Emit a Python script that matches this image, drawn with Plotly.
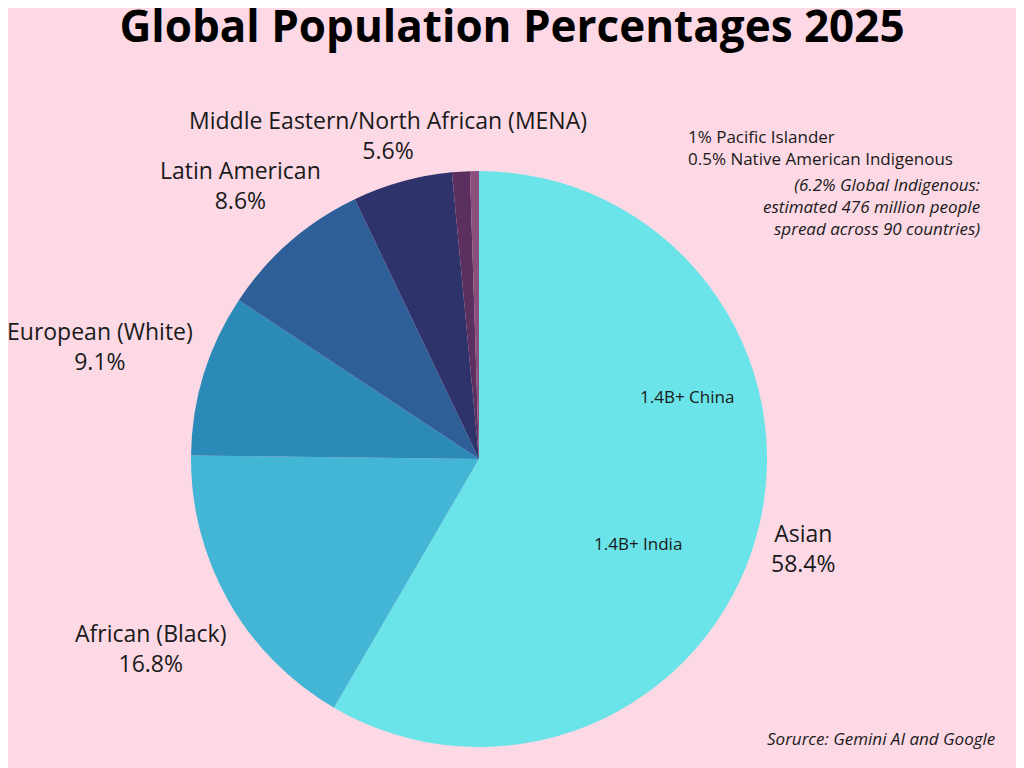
import plotly.graph_objects as go

groups = ["Asian", "African (Black)", "European (White)", "Latin American",
          "Middle Eastern/North African (MENA)", "Pacific Islander", "Native American Indigenous"]
shares = [58.4, 16.8, 9.1, 8.6, 5.6, 1.0, 0.5]
colors = ["#6ae4e8", "#42b6d4", "#2b8ab8", "#2e5f98", "#2f336b", "#5b2f5e", "#8a4f7c"]

W, H = 1024, 768
BG = "#fdd9e5"
OFF = 8  # page offset seen in the screenshot


def px(x, y):
    return (x - OFF) / W, 1 - (y - OFF) / H


x0, y1 = px(191, 171)
x1, y0 = px(767, 747)
fig = go.Figure(go.Pie(
    labels=groups, values=shares, sort=False, direction="clockwise", rotation=0,
    marker=dict(colors=colors, line=dict(width=0)),
    textinfo="none", hoverinfo="label+percent", showlegend=False,
    domain=dict(x=[x0, x1], y=[y0, y1]),
))

# (text, x px, y px, size, style, anchor)
labels = [
    ("Middle Eastern/North African (MENA)<br>5.6%", 388, 135, 23, "normal", "center"),
    ("Latin American<br>8.6%", 240, 185, 23, "normal", "center"),
    ("European (White)<br>9.1%", 100, 346, 23, "normal", "center"),
    ("African (Black)<br>16.8%", 150, 648, 23, "normal", "center"),
    ("Asian<br>58.4%", 803, 548, 23, "normal", "center"),
    ("1.4B+ China", 687, 396, 17, "normal", "center"),
    ("1.4B+ India", 638, 543, 17, "normal", "center"),
    ("1% Pacific Islander<br>0.5% Native American Indigenous", 686, 148, 17, "normal", "left"),
    ("(6.2% Global Indigenous:<br>estimated 476 million people<br>spread across 90 countries)",
     982, 207, 17, "italic", "right"),
    ("Sorurce: Gemini AI and Google", 997, 738, 17, "italic", "right"),
]
anns = []
for text, x, y, size, style, anchor in labels:
    ax, ay = px(x, y)
    anns.append(dict(text=text, x=ax, y=ay, xref="paper", yref="paper", showarrow=False,
                     xanchor=anchor, yanchor="middle", align=anchor,
                     font=dict(size=size, color="#1a1a1a", style=style,
                               family="Open Sans")))

tx, ty = px(512, 27)
fig.update_layout(
    width=W, height=H, paper_bgcolor=BG, plot_bgcolor=BG,
    margin=dict(l=0, r=0, t=0, b=0),
    font=dict(family="Open Sans"),
    title=dict(text="<b>Global Population Percentages 2025</b>", x=tx, y=ty,
               xanchor="center", yanchor="middle",
               font=dict(size=44, color="black", family="Open Sans", weight=800)),
    annotations=anns,
)

fig.write_html("out.html")
